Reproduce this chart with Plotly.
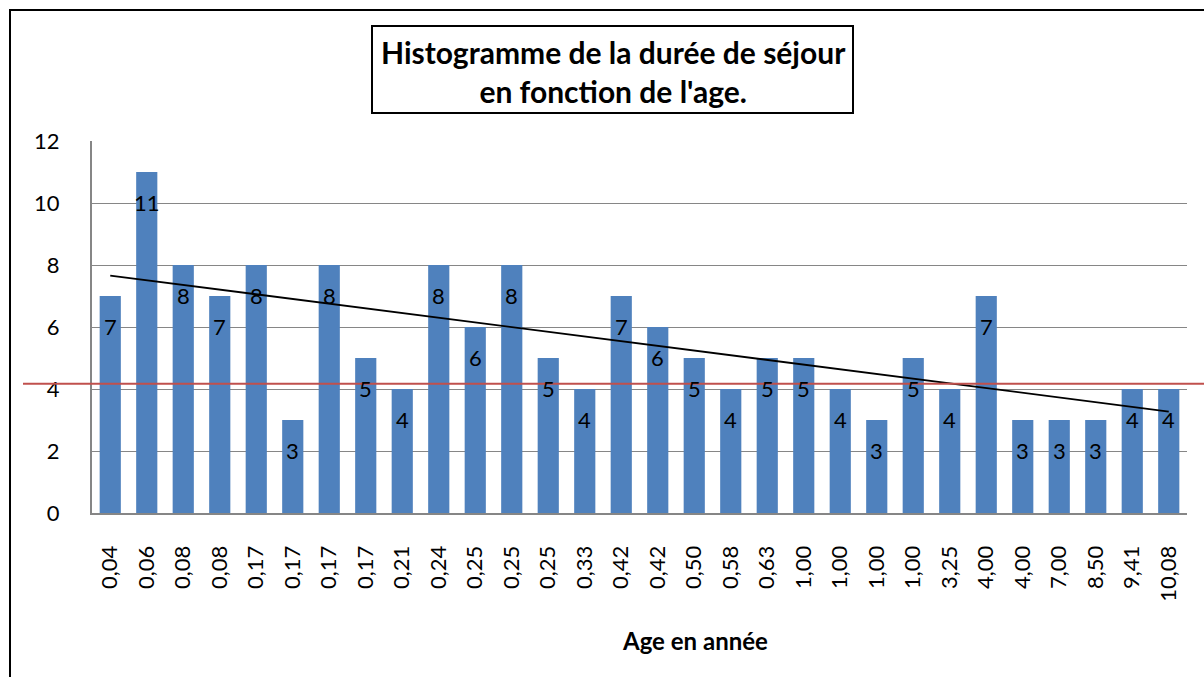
import numpy as np
import plotly.graph_objects as go

# ---- data ----
age_labels = ["0,04", "0,06", "0,08", "0,08", "0,17", "0,17", "0,17", "0,17", "0,21", "0,24",
              "0,25", "0,25", "0,25", "0,33", "0,42", "0,42", "0,50", "0,58", "0,63", "1,00",
              "1,00", "1,00", "1,00", "3,25", "4,00", "4,00", "7,00", "8,50", "9,41", "10,08"]
duree_sejour = [7, 11, 8, 7, 8, 3, 8, 5, 4, 8,
                6, 8, 5, 4, 7, 6, 5, 4, 5, 5,
                4, 3, 5, 4, 7, 3, 3, 3, 4, 4]
ref_level = 4.17
y_ticks = [0, 2, 4, 6, 8, 10, 12]

title_text = "Histogramme de la durée de séjour<br>en fonction de l'age."
xaxis_text = "Age en année"

# ---- layout geometry ----
W, H = 1204, 677
ML, MR, MT, MB = 92, 17, 141, 164
PW, PH = W - ML - MR, H - MT - MB
YMIN, YMAX = 0, 12


def px(x):
    return (x - ML) / PW


def py(y):
    return (H - MB - y) / PH


FONT = "Lato, Calibri, Carlito, sans-serif"

idx = np.arange(len(duree_sejour))
slope, intercept = np.polyfit(idx, duree_sejour, 1)
trend = slope * idx + intercept

fig = go.Figure()
fig.add_trace(go.Bar(
    x=idx, y=duree_sejour,
    marker=dict(color="#4F81BD", line=dict(width=0)),
    width=0.58, showlegend=False, hoverinfo="y",
))
fig.add_trace(go.Scatter(
    x=[idx[0], idx[-1]], y=[trend[0], trend[-1]],
    mode="lines", line=dict(color="black", width=1.8),
    showlegend=False, hoverinfo="skip",
))

annotations = []
for i, v in zip(idx, duree_sejour):
    annotations.append(dict(
        x=int(i), y=v, xref="x", yref="y", text=str(v), showarrow=False,
        yshift=-30, font=dict(family=FONT, size=22, color="black"),
    ))
annotations.append(dict(
    x=px(613), y=py(71.5), xref="paper", yref="paper", text="<b>" + title_text + "</b>",
    showarrow=False, xanchor="center", yanchor="middle",
    font=dict(family=FONT, size=30, color="black"),
))
annotations.append(dict(
    x=px(695), y=py(640), xref="paper", yref="paper", text="<b>" + xaxis_text + "</b>",
    showarrow=False, xanchor="center", yanchor="middle",
    font=dict(family=FONT, size=24, color="black"),
))

shapes = [
    # reference red line
    dict(type="line", xref="paper", yref="paper", x0=px(23), x1=px(1210),
         y0=(ref_level - YMIN) / (YMAX - YMIN), y1=(ref_level - YMIN) / (YMAX - YMIN),
         line=dict(color="#C0504D", width=2)),
    # title box
    dict(type="rect", xref="paper", yref="paper", x0=px(372), x1=px(853),
         y0=py(113), y1=py(26), line=dict(color="black", width=2)),
    # outer chart border
    dict(type="rect", xref="paper", yref="paper", x0=px(10), x1=px(1300),
         y0=py(800), y1=py(10), line=dict(color="black", width=2)),
]

fig.update_layout(
    width=W, height=H,
    margin=dict(l=ML, r=MR, t=MT, b=MB, pad=0),
    paper_bgcolor="white", plot_bgcolor="white",
    font=dict(family=FONT, size=22, color="black"),
    annotations=annotations, shapes=shapes,
    bargap=0.42,
)
fig.update_xaxes(
    range=[-0.5, len(idx) - 0.5], tickmode="array", tickvals=idx, ticktext=age_labels,
    tickangle=-90, showgrid=False, showline=True, linecolor="#868686", linewidth=2,
    ticks="", ticklabelstandoff=22, tickfont=dict(family=FONT, size=22, color="black"),
    zeroline=False,
)
fig.update_yaxes(
    range=[YMIN, YMAX], tickmode="array", tickvals=y_ticks,
    showgrid=True, gridcolor="#868686", gridwidth=1,
    showline=True, linecolor="#868686", linewidth=2, ticks="",
    ticklabelstandoff=26, tickfont=dict(family=FONT, size=22, color="black"),
    zeroline=False,
)

fig.write_html(
    "out.html",
    config={"displayModeBar": False},
    post_script="document.body.style.margin='0px';document.body.style.overflow='hidden';",
)
